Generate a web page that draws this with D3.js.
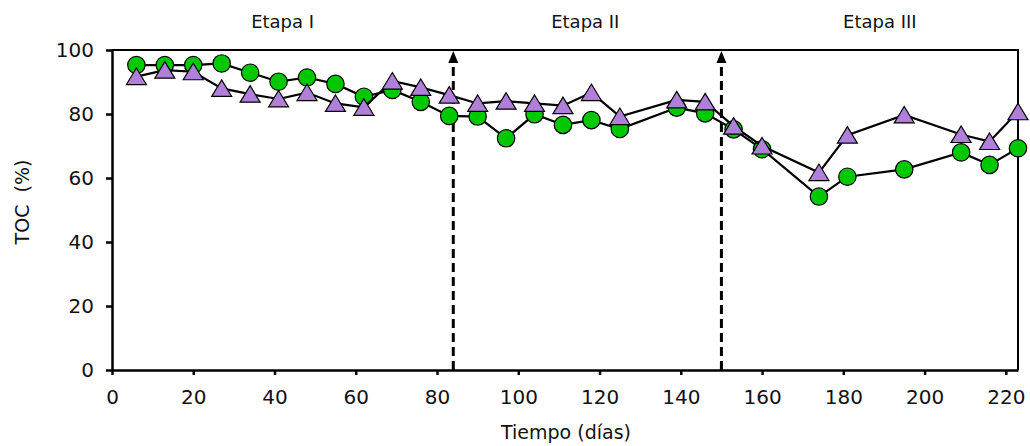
<!DOCTYPE html>
<html>
<head>
<meta charset="utf-8">
<script src="https://cdn.jsdelivr.net/npm/d3@7"></script>
<style>
  body { margin: 0; background: #fff; }
  svg text { font-family: "DejaVu Sans", sans-serif; fill: #111; }
</style>
</head>
<body>
<svg id="chart" width="1030" height="446"></svg>
<script>
// 1 data
const days = [6, 13, 20, 27, 34, 41, 48, 55, 62, 69, 76, 83, 90, 97, 104, 111, 118, 125, 139, 146, 153, 160, 174, 181, 195, 209, 216, 223];
const tocCircles = [95.3, 95.3, 95.3, 95.8, 92.9, 90.1, 91.4, 89.4, 85.4, 87.5, 83.8, 79.4, 79.2, 72.4, 79.9, 76.6, 78.1, 75.3, 82.0, 80.2, 75.2, 69.0, 54.2, 60.4, 62.7, 68.0, 64.1, 69.3];
const tocTriangles = [91.7, 93.7, 93.2, 88.0, 86.2, 84.7, 86.7, 83.3, 82.1, 90.3, 88.3, 85.9, 83.3, 84.0, 83.3, 82.6, 86.7, 79.2, 84.4, 83.8, 76.2, 70.0, 61.7, 73.4, 79.7, 73.6, 71.4, 80.7];
const stageBreaks = [84, 150];
const stageLabels = ["Etapa I", "Etapa II", "Etapa III"];
const stageCenters = [42, 116.5, 189];
const xTicks = [0, 20, 40, 60, 80, 100, 120, 140, 160, 180, 200, 220];
const yTicks = [0, 20, 40, 60, 80, 100];

const width = 1030, height = 446;
const margin = {top: 50, right: 12, bottom: 76, left: 112};

const svg = d3.select('#chart');

// 2 scales
const x = d3.scaleLinear().domain([0, 223]).range([margin.left, width - margin.right]);
const y = d3.scaleLinear().domain([0, 100]).range([height - margin.bottom, margin.top]);

// 3 frame (top + right)
svg.append('path')
  .attr('d', `M${x(0)},${y(100)}H${x(223)}V${y(0)}`)
  .attr('fill', 'none').attr('stroke', '#000').attr('stroke-width', 2);

// 4 axes
const xAxis = d3.axisBottom(x).tickValues(xTicks).tickSize(5).tickPadding(15).tickSizeOuter(0);
const yAxis = d3.axisLeft(y).tickValues(yTicks).tickSize(6).tickPadding(12).tickSizeOuter(0);

const gx = svg.append('g').attr('transform', `translate(0,${y(0)})`).call(xAxis);
const gy = svg.append('g').attr('transform', `translate(${x(0)},0)`).call(yAxis);
[gx, gy].forEach(g => {
  g.select('.domain').attr('stroke', '#000').attr('stroke-width', 2.5);
  g.selectAll('.tick line').attr('stroke', '#000').attr('stroke-width', 2.5);
  g.selectAll('.tick text').style('font-size', '20px').attr('fill', '#111');
});

// axis titles
svg.append('text').attr('x', 566).attr('y', 439).attr('text-anchor', 'middle')
  .style('font-size', '19px').text('Tiempo (días)');
svg.append('text').attr('transform', `translate(29,${y(50) - 8}) rotate(-90)`)
  .attr('text-anchor', 'middle').style('font-size', '19px').style('white-space', 'pre')
  .text('TOC  (%)');

// 5 stage dividers with arrowheads at the top
svg.selectAll('.stage').data(stageBreaks).join('line')
  .attr('class', 'stage')
  .attr('x1', d => x(d)).attr('x2', d => x(d))
  .attr('y1', y(0)).attr('y2', y(100) + 10)
  .attr('stroke', '#000').attr('stroke-width', 3)
  .attr('stroke-dasharray', '9,5');

svg.selectAll('.arrow').data(stageBreaks).join('path')
  .attr('class', 'arrow')
  .attr('d', 'M0,0L5,12L-5,12Z')
  .attr('transform', d => `translate(${x(d)},${y(100) + 1})`)
  .attr('fill', '#000');

svg.selectAll('.stage-label').data(stageLabels).join('text')
  .attr('class', 'stage-label')
  .attr('x', (d, i) => x(stageCenters[i])).attr('y', 28)
  .attr('text-anchor', 'middle').style('font-size', '18px')
  .text(d => d);

// 6 series
const line = d3.line().x(d => x(d[0])).y(d => y(d[1]));
const circ = days.map((d, i) => [d, tocCircles[i]]);
const tri = days.map((d, i) => [d, tocTriangles[i]]);

svg.append('path').attr('d', line(circ)).attr('fill', 'none').attr('stroke', '#000').attr('stroke-width', 2.2);
svg.selectAll('.c').data(circ).join('circle').attr('class', 'c')
  .attr('cx', d => x(d[0])).attr('cy', d => y(d[1])).attr('r', 8.7)
  .attr('fill', '#00c800').attr('stroke', '#000').attr('stroke-width', 1.2);

svg.append('path').attr('d', line(tri)).attr('fill', 'none').attr('stroke', '#000').attr('stroke-width', 2.2);
svg.selectAll('.t').data(tri).join('path').attr('class', 't')
  .attr('d', 'M0,-8.5L10,8L-10,8Z')
  .attr('transform', d => `translate(${x(d[0])},${y(d[1])})`)
  .attr('fill', '#b07fd9').attr('stroke', '#000').attr('stroke-width', 1.2);
</script>
</body>
</html>
